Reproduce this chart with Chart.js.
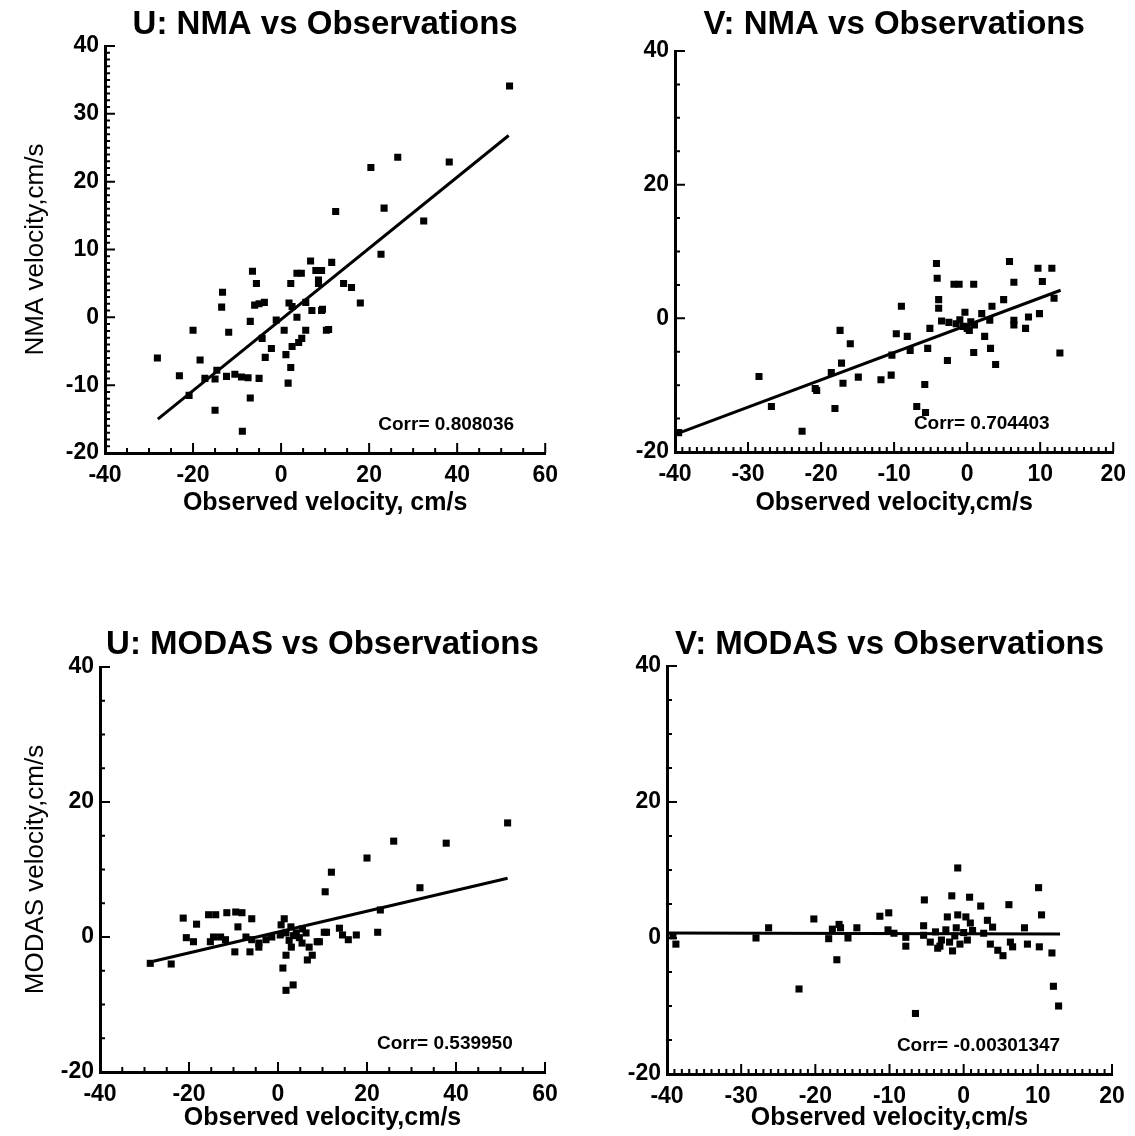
<!DOCTYPE html>
<html>
<head>
<meta charset="utf-8">
<script src="https://cdn.jsdelivr.net/npm/chart.js@4.4.1/dist/chart.umd.min.js"></script>
<style>
body { margin: 0; background: #fff; width: 1135px; height: 1136px; position: relative; overflow: hidden; }
canvas { position: absolute; }
</style>
</head>
<body>
<canvas id="c1" width="567" height="530" style="left:0px;top:0px"></canvas>
<canvas id="c2" width="568" height="530" style="left:567px;top:0px"></canvas>
<canvas id="c3" width="567" height="536" style="left:0px;top:600px"></canvas>
<canvas id="c4" width="568" height="536" style="left:567px;top:600px"></canvas>
<script>
var FONT = '"Liberation Sans", Arial, sans-serif';

// panel titles and labels
var titles = ["U: NMA vs Observations", "V: NMA vs Observations", "U: MODAS vs Observations", "V: MODAS vs Observations"];
var xTitles = ["Observed velocity, cm/s", "Observed velocity,cm/s", "Observed velocity,cm/s", "Observed velocity,cm/s"];
var yTitles = ["NMA velocity,cm/s", "", "MODAS velocity,cm/s", ""];
var corrText = ["Corr= 0.808036", "Corr= 0.704403", "Corr= 0.539950", "Corr= -0.00301347"];

// axis ranges [min, max, major, minor]
var xU = [-40, 60, 20, 5];
var xV = [-40, 20, 10, 1];
var yNmaU = [-20, 40, 10, 1];
var yOther = [-20, 40, 20, 5];

// scatter values [observed, model]
var uNma = [[51.9,34.1],[26.5,23.6],[38.2,22.9],[20.4,22.1],[12.4,15.6],[23.4,16.1],[32.4,14.2],[22.7,9.3],
  [11.5,8.1],[9.2,6.9],[14.2,5.0],[16,4.4],[18,2.1],[9.4,1.2],[10.8,-1.8],[8.5,5.0],
  [-6.5,6.8],[-5.6,5.0],[-13.3,3.7],[-13.5,1.5],[-6,1.8],[-5,2.0],[-3.8,2.2],[-7,-0.6],[-20,-1.9],
  [-11.9,-2.2],[-4.3,-3.1],[-2.2,-4.6],[-3.6,-5.9],[-28.1,-6.0],[-18.4,-6.3],[-23.1,-8.6],[-17.3,-9.0],
  [-15,-9.1],[-14.6,-7.8],[-12.4,-8.7],[-10.5,-8.4],[-9,-8.8],[-7.5,-8.9],[-5,-9.0],[-20.9,-11.5],
  [-7,-11.9],[-15,-13.7],[-8.8,-16.8],[1.6,-9.7],[2.2,-7.4],[1.1,-5.5],[2.5,-4.3],[4,-3.7],[4.7,-3.1],
  [5.6,-1.9],[0.7,-1.9],[-1.1,-0.4],[3.6,0],[1.8,2.1],[2.5,1.6],[5.6,2.2],[7,1.0],[9.2,1.0],[10.3,-1.9],
  [3.6,6.5],[4.6,6.5],[2.2,5.0],[7.9,6.9],[8.5,5.5],[6.7,8.3]];
var vNma = [[-39.5,-17.1],[-28.5,-8.7],[-26.8,-13.2],[-22.6,-16.9],[-20.8,-10.5],[-20.6,-10.8],[-18.6,-8.1],
  [-18.1,-13.5],[-17.4,-1.8],[-17.2,-6.7],[-17,-9.7],[-16,-3.8],[-14.9,-8.8],[-11.8,-9.2],[-10.4,-8.5],
  [-10.3,-5.5],[-9.7,-2.3],[-9,1.8],[-8.2,-2.7],[-7.8,-4.8],[-5.8,-9.9],[-6.9,-13.2],[-5.7,-14.1],
  [-5.4,-4.5],[-5.1,-1.5],[-4.2,8.2],[-4.1,6.0],[-1.8,5.1],[-1.1,5.1],[0.9,5.1],[5.8,8.5],[6.4,5.4],
  [9.7,7.5],[11.6,7.5],[10.3,5.5],[11.9,3.0],[-3.9,2.8],[-3.9,1.5],[5,2.8],[3.4,1.8],[2,0.7],[-0.3,0.9],
  [-3.5,-0.4],[-2.5,-0.6],[-1.5,-0.8],[-1,-0.2],[-0.5,-1.2],[0,-1.5],[0.5,-0.5],[1,-1],[0.3,-1.8],
  [3.1,-0.3],[6.4,-0.3],[6.4,-1.0],[8.4,0.2],[9.9,0.7],[8,-1.5],[2.4,-2.7],[3.2,-4.5],[0.9,-5.1],
  [3.9,-6.9],[-2.7,-6.3],[12.7,-5.2]];
var uModas = [[51.6,16.9],[26,14.2],[37.8,13.9],[20,11.7],[12,9.6],[10.6,6.7],[31.9,7.3],[23,4.0],[22.4,0.7],
  [10.9,0.7],[13.8,1.3],[14.5,0.3],[15.8,-0.4],[17.6,0.3],[9.3,-0.7],[-28.7,-3.9],[-24,-4.0],[-21.3,2.8],
  [-18.3,1.9],[-20.6,-0.1],[-19,-0.7],[-15.6,3.3],[-14,3.3],[-11.5,3.6],[-9.5,3.7],[-8.1,3.6],[-5.9,2.7],
  [-9,1.5],[-15.2,-0.7],[-14.5,0],[-12.9,0],[-11.8,-0.4],[-9.7,-2.2],[-6.3,-2.2],[-7.2,0],[-5.9,-0.4],
  [-4.3,-0.9],[-2.7,-0.4],[-1.4,0],[-4.3,-1.5],[1.4,2.7],[0.7,1.8],[2.9,1.5],[1.8,0.6],[4.1,0.6],
  [4.8,-0.1],[6.3,0.6],[5.4,-0.9],[7,-1.5],[6.6,-3.4],[7.7,-2.7],[8.8,-0.7],[1.8,-2.7],[1.1,-4.6],
  [10.4,0.7],[1.8,-7.9],[3.4,-7.1],[2.5,-0.5],[3.5,0.2],[0.5,0.3],[3,-1.5],[5.5,1.2]];
var vModas = [[-38.8,-0.9],[-39.2,0.3],[-28,0],[-26.3,1.5],[-22.2,-7.5],[-20.2,2.8],[-18.2,-0.1],[-17.7,1.3],
  [-16.8,2.0],[-16.6,1.5],[-17.1,-3.2],[-15.6,0],[-14.4,1.5],[-11.3,3.2],[-10.1,3.7],[-10.2,1.2],
  [-0.8,10.3],[10.1,7.4],[-5.3,5.6],[-1.6,6.2],[0.8,6.0],[2.3,4.7],[6.1,4.9],[10.5,3.4],[-5.4,1.8],
  [-2.2,3.1],[-0.8,3.4],[0.3,3.1],[0.9,2.2],[3.2,2.6],[3.9,1.6],[8.2,1.5],[-9.4,0.7],[-7.8,0.1],
  [-7.8,-1.2],[-5.4,0.4],[-4.5,-0.6],[-3.8,0.9],[-3,-0.3],[-2.4,1.2],[-1.9,-0.6],[-1.2,0.3],[-0.5,-0.9],
  [0,0.8],[0.5,-0.3],[1.2,1.1],[-1,1.5],[-3.2,-1.2],[-3.5,-1.5],[-1.5,-1.9],[2.7,0.7],[3.6,-0.9],
  [4.6,-1.8],[5.3,-2.6],[6.3,-0.6],[6.6,-1.3],[8.6,-0.9],[10.2,-1.3],[11.9,-2.2],[12.1,-7.1],[12.8,-10],
  [-6.5,-11.1]];

// regression line ends
var uNmaFit = [[-28, -15], [51.7, 26.8]];
var vNmaFit = [[-39.6, -17.2], [12.8, 4.2]];
var uModasFit = [[-28, -3.6], [51.6, 8.7]];
var vModasFit = [[-40, 0.75], [13, 0.58]];

// where the Corr= text sits, in data units
var corrAtU = [37.5, -15.8];
var corrAtV = [2, -15.8];

function toXY(arr) {
  return arr.map(function(p) { return {x: p[0], y: p[1]}; });
}

function isMajor(v, major) {
  var r = v / major;
  return Math.abs(r - Math.round(r)) < 1e-6;
}

// inward ticks, the panel title (centred on the plot) and the Corr label
var axisTicks = {
  id: 'axisTicks',
  afterDraw: function(chart, args, opts) {
    var c = chart.ctx, xs = chart.scales.x, ys = chart.scales.y, a = chart.chartArea;
    c.save();
    c.strokeStyle = '#000';
    c.lineWidth = 2;
    c.beginPath();
    for (var i = 0; ; i++) {
      var v = opts.x[0] + i * opts.x[3];
      if (v > opts.x[1] + 1e-9) break;
      var px = xs.getPixelForValue(v);
      c.moveTo(px, a.bottom);
      c.lineTo(px, a.bottom - (isMajor(v, opts.x[2]) ? 10 : 5));
    }
    for (var j = 0; ; j++) {
      var w = opts.y[0] + j * opts.y[3];
      if (w > opts.y[1] + 1e-9) break;
      var py = ys.getPixelForValue(w);
      c.moveTo(a.left, py);
      c.lineTo(a.left + (isMajor(w, opts.y[2]) ? 10 : 5), py);
    }
    c.stroke();
    c.fillStyle = '#000';
    c.textAlign = 'center';
    c.textBaseline = 'middle';
    c.font = 'bold 33px ' + FONT;
    c.fillText(opts.title, (a.left + a.right) / 2, opts.titleY);
    c.font = 'bold 19px ' + FONT;
    c.fillText(opts.corr, xs.getPixelForValue(opts.corrAt[0]), ys.getPixelForValue(opts.corrAt[1]));
    c.restore();
  }
};

function makeChart(id, p) {
  var ctx = document.getElementById(id).getContext("2d");
  var tickFont = {family: FONT, size: 23, weight: 'bold'};
  return new Chart(ctx, {
    type: 'scatter',
    data: {
      datasets: [
        {data: toXY(p.points), pointStyle: 'rect', pointRadius: 5, backgroundColor: '#000', borderWidth: 0},
        {data: toXY(p.fit), showLine: true, pointRadius: 0, borderColor: '#000', borderWidth: 3}
      ]
    },
    options: {
      responsive: false,
      animation: false,
      devicePixelRatio: 1,
      layout: {padding: {left: 0, right: p.padRight, top: p.top, bottom: 0}},
      plugins: {
        legend: {display: false},
        tooltip: {enabled: false},
        title: {display: false},
        axisTicks: {x: p.xr, y: p.yr, corr: p.corr, corrAt: p.corrAt, title: p.title, titleY: p.titleY}
      },
      scales: {
        x: {
          type: 'linear', min: p.xr[0], max: p.xr[1],
          ticks: {stepSize: p.xr[2], color: '#000', font: tickFont, padding: 9, maxRotation: 0, autoSkip: false},
          grid: {drawOnChartArea: false, drawTicks: false},
          border: {display: true, color: '#000', width: 3},
          title: {display: true, text: p.xTitle, color: '#000',
            font: {family: FONT, size: 25, weight: 'bold'}, padding: {top: 0, bottom: p.xTitlePad}},
          afterFit: function(s) { s.height = p.xH; }
        },
        y: {
          type: 'linear', min: p.yr[0], max: p.yr[1],
          ticks: {stepSize: p.yr[2], color: '#000', font: tickFont, padding: 6, autoSkip: false},
          grid: {drawOnChartArea: false, drawTicks: false},
          border: {display: true, color: '#000', width: 3},
          title: {display: p.yTitle !== "", text: p.yTitle, color: '#000',
            font: {family: FONT, size: 26, weight: 'normal'}, padding: {top: 20, bottom: 0}},
          afterFit: function(s) { s.width = p.yW; }
        }
      }
    },
    plugins: [axisTicks]
  });
}

makeChart("c1", {points: uNma, fit: uNmaFit, title: titles[0], xTitle: xTitles[0], yTitle: yTitles[0],
  corr: corrText[0], corrAt: corrAtU, xr: xU, yr: yNmaU,
  padRight: 18, top: 46, titleY: 25, yW: 105, xH: 77, xTitlePad: 12});
makeChart("c2", {points: vNma, fit: vNmaFit, title: titles[1], xTitle: xTitles[1], yTitle: yTitles[1],
  corr: corrText[1], corrAt: corrAtV, xr: xV, yr: yOther,
  padRight: 18, top: 51, titleY: 25, yW: 108, xH: 78, xTitlePad: 12});
makeChart("c3", {points: uModas, fit: uModasFit, title: titles[2], xTitle: xTitles[2], yTitle: yTitles[2],
  corr: corrText[2], corrAt: corrAtU, xr: xU, yr: yOther,
  padRight: 22, top: 67, titleY: 45, yW: 100, xH: 64, xTitlePad: 3});
makeChart("c4", {points: vModas, fit: vModasFit, title: titles[3], xTitle: xTitles[3], yTitle: yTitles[3],
  corr: corrText[3], corrAt: corrAtV, xr: xV, yr: yOther,
  padRight: 23, top: 66, titleY: 45, yW: 100, xH: 62, xTitlePad: 3});
</script>
</body>
</html>
